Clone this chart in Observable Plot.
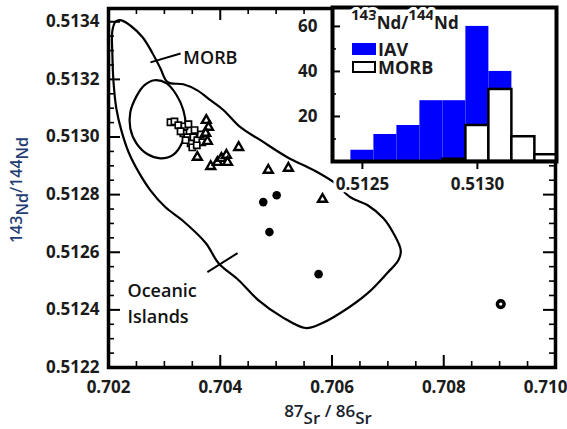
<!DOCTYPE html>
<html><head><meta charset="utf-8">
<script src="https://cdn.jsdelivr.net/npm/d3@7"></script>
<script src="https://cdn.jsdelivr.net/npm/@observablehq/plot@0.6"></script>
<style>
body{margin:0;background:#fff;}
#wrap{position:relative;width:567px;height:429px;overflow:hidden;background:#fff;}
#wrap svg{position:absolute;left:0;top:0;}
#wrap svg.inset{left:290px;top:0;}
svg.inset text{paint-order:stroke;stroke:#fff;stroke-width:6px;stroke-linejoin:round;}
</style></head><body><div id="wrap"></div>
<script>
// ---- main axes ----
const xMajor = [0.702, 0.704, 0.706, 0.708];
const xLast = [0.710];
const xMinor = [0.7025, 0.703, 0.7035, 0.7045, 0.705, 0.7055, 0.7065, 0.707, 0.7075, 0.7085, 0.709, 0.7095];
const yMajor = [0.5122, 0.5124, 0.5126, 0.5128, 0.5130, 0.5132, 0.5134];
const yMinor = [0.51225, 0.5123, 0.51235, 0.51245, 0.5125, 0.51255, 0.51265, 0.5127, 0.51275,
  0.51285, 0.5129, 0.51295, 0.51305, 0.5131, 0.51315, 0.51325, 0.5133, 0.51335];

// ---- field outlines ----
const oibX = [0.70207,0.70213,0.70223,0.70239,0.70261,0.70279,0.70293,0.70306,0.70334,0.70359,0.70383,0.70406,0.70436,0.70472,0.70520,0.70567,0.70603,0.70633,0.70664,0.70692,0.70710,0.70723,0.70719,0.70699,0.70664,0.70615,0.70579,0.70553,0.70511,0.70468,0.70433,0.70397,0.70374,0.70332,0.70302,0.70275,0.70254,0.70236,0.70223,0.70214,0.70209,0.70207];
const oibY = [0.513370,0.513401,0.513405,0.513387,0.513346,0.513290,0.513238,0.513190,0.513183,0.513162,0.513127,0.513093,0.513034,0.512989,0.512930,0.512885,0.512843,0.512791,0.512763,0.512718,0.512666,0.512607,0.512573,0.512528,0.512458,0.512389,0.512351,0.512337,0.512375,0.512434,0.512503,0.512562,0.512632,0.512711,0.512756,0.512815,0.512878,0.512947,0.513023,0.513099,0.513190,0.513283];
const ellX = [0.70282,0.70304,0.70322,0.70334,0.70338,0.70332,0.70315,0.70293,0.70270,0.70250,0.70239,0.70239,0.70250,0.70264];
const ellY = [0.513197,0.513186,0.513145,0.513093,0.513041,0.512982,0.512937,0.512926,0.512940,0.512978,0.513030,0.513086,0.513141,0.513179];

// ---- samples ----
const sqX = [0.70311,0.70318,0.70325,0.70336,0.70343,0.70334,0.70341,0.70347,0.70352,0.70359,0.70365,0.70368,0.70350,0.70358,0.70338,0.70329,0.70354];
const sqY = [0.513051,0.513054,0.513041,0.513037,0.513044,0.513013,0.512999,0.512978,0.512999,0.512989,0.513009,0.512982,0.512964,0.512971,0.512989,0.513020,0.513024];
const triX = [0.70375,0.70379,0.70374,0.70377,0.70433,0.70359,0.70383,0.70395,0.70402,0.70411,0.70413,0.70486,0.70522,0.70583];
const triY = [0.513058,0.513034,0.513013,0.512985,0.512964,0.512930,0.512898,0.512912,0.512926,0.512937,0.512912,0.512885,0.512892,0.512784];
const circX = [0.70477,0.70501,0.70488,0.70576];
const circY = [0.512774,0.512798,0.512670,0.512524];
const ringX = [0.70902];
const ringY = [0.512420];

// ---- annotations ----
const fieldLabels = ["MORB", "Oceanic\nIslands"];
const fieldLabelX = [0.70334, 0.70234];
const fieldLabelY = [0.513283, 0.512427];
const pointerX1 = [0.70329, 0.70377];
const pointerY1 = [0.513290, 0.512531];
const pointerX2 = [0.70275, 0.70431];
const pointerY2 = [0.513259, 0.512597];

// ---- inset histogram ----
const binLo = [0.51245,0.51255,0.51265,0.51275,0.51285,0.51295,0.51305,0.51315,0.51325];
const binHi = [0.51255,0.51265,0.51275,0.51285,0.51295,0.51305,0.51315,0.51325,0.51335];
const iavCount = [5,12,16,27,27,60,40,0,0];
const morbCount = [0,0,0,0,1,16,32,11,3];
const insetXTicks = [0.5125, 0.5130];
const insetYMajor = [20, 40, 60];
const insetYMinor = [10, 30, 50];
const legendLabels = ["IAV", "MORB"];

const pts = (xs, ys) => xs.map((x, i) => ({x, y: ys[i]}));
const oib = pts(oibX, oibY), ell = pts(ellX, ellY);
const squares = pts(sqX, sqY), tris = pts(triX, triY), circs = pts(circX, circY), rings = pts(ringX, ringY);
const labels = fieldLabels.map((t, i) => ({t, x: fieldLabelX[i], y: fieldLabelY[i]}));
const pointers = pointerX1.map((x1, i) => ({x1, y1: pointerY1[i], x2: pointerX2[i], y2: pointerY2[i]}));

const FONT = "'Open Sans', sans-serif";
const TXT = "#1b1b1b";
const W = 567, H = 429, mL = 108, mR = 12, mT = 8, mB = 62;
const pW = W - mL - mR, pH = H - mT - mB;

const main = Plot.plot({
  width: W, height: H, marginLeft: mL, marginRight: mR, marginTop: mT, marginBottom: mB,
  style: {fontFamily: FONT, background: "transparent", overflow: "visible"},
  x: {domain: [0.702, 0.710], axis: null, label: null},
  y: {domain: [0.5122, 0.513446], axis: null, label: null},
  marks: [
    Plot.line(oib, {x: "x", y: "y", curve: "catmull-rom-closed", stroke: "black", strokeWidth: 2.2}),
    Plot.line(ell, {x: "x", y: "y", curve: "catmull-rom-closed", stroke: "black", strokeWidth: 2.2}),
    Plot.link(pointers, {x1: "x1", y1: "y1", x2: "x2", y2: "y2", stroke: "black", strokeWidth: 2}),
    Plot.text(labels, {x: "x", y: "y", text: "t", textAnchor: "start", lineAnchor: "middle", fontSize: 18, fontWeight: 600, fill: "#111", lineHeight: 1.45}),
    Plot.dot(squares, {x: "x", y: "y", symbol: "square", r: 3.5, fill: "white", stroke: "black", strokeWidth: 1.7}),
    Plot.dot(tris, {x: "x", y: "y", symbol: "triangle", r: 3.3, fill: "white", stroke: "black", strokeWidth: 2.4}),
    Plot.dot(circs, {x: "x", y: "y", r: 4.3, fill: "black"}),
    Plot.dot(rings, {x: "x", y: "y", r: 3.4, fill: "white", stroke: "black", strokeWidth: 3.4}),
    // inward ticks on all four sides
    Plot.tickX(xMajor.concat(xLast), {x: d => d, insetTop: pH - 12, stroke: "black", strokeWidth: 2}),
    Plot.tickX(xMinor, {x: d => d, insetTop: pH - 6, stroke: "black", strokeWidth: 1.6}),
    Plot.tickX(xMajor.concat(xLast), {x: d => d, insetBottom: pH - 12, stroke: "black", strokeWidth: 2}),
    Plot.tickX(xMinor, {x: d => d, insetBottom: pH - 6, stroke: "black", strokeWidth: 1.6}),
    Plot.tickY(yMajor, {y: d => d, insetRight: pW - 12, stroke: "black", strokeWidth: 2}),
    Plot.tickY(yMinor, {y: d => d, insetRight: pW - 6, stroke: "black", strokeWidth: 1.6}),
    Plot.tickY(yMajor, {y: d => d, insetLeft: pW - 12, stroke: "black", strokeWidth: 2}),
    Plot.tickY(yMinor, {y: d => d, insetLeft: pW - 6, stroke: "black", strokeWidth: 1.6}),
    Plot.axisX(xMajor, {anchor: "bottom", label: null, tickSize: 0, tickPadding: 13, tickFormat: d3.format(".3f"), fontSize: 17, fontWeight: "bold", fill: TXT}),
    Plot.axisX(xLast, {anchor: "bottom", label: null, tickSize: 0, tickPadding: 13, tickFormat: d3.format(".3f"), fontSize: 17, fontWeight: "bold", fill: TXT, textAnchor: "end", dx: 12}),
    Plot.axisY(yMajor, {anchor: "left", label: null, tickSize: 0, tickPadding: 9, tickFormat: d3.format(".4f"), fontSize: 17, fontWeight: "bold", fill: TXT}),
    Plot.frame({stroke: "black", strokeWidth: 3.5})
  ]
});

// axis titles with sub-positioned isotope names
const ms = d3.select(main);
const yt = ms.append("text").attr("transform", "translate(22,190) rotate(-90)")
  .attr("text-anchor", "middle").attr("fill", "#1f3c73").attr("font-size", 16)
  .attr("font-weight", 600).attr("font-family", FONT);
yt.append("tspan").text("143");
yt.append("tspan").attr("dy", 6).text("Nd");
yt.append("tspan").attr("dy", -6).text("/144");
yt.append("tspan").attr("dy", 6).text("Nd");

const xt = ms.append("text").attr("x", 328).attr("y", 417)
  .attr("text-anchor", "middle").attr("fill", "#1a1f2e").attr("font-size", 17)
  .attr("font-weight", 600).attr("font-family", FONT);
xt.append("tspan").text("87");
xt.append("tspan").attr("dy", 7).text("Sr");
xt.append("tspan").attr("dy", -7).text(" / 86");
xt.append("tspan").attr("dy", 7).text("Sr");

// ---- inset ----
const iav = binLo.map((lo, i) => ({lo, hi: binHi[i], n: iavCount[i]})).filter(d => d.n > 0);
const morb = binLo.map((lo, i) => ({lo, hi: binHi[i], n: morbCount[i]})).filter(d => d.n > 0);
const iW = 277, iH = 200, iL = 42, iR = 11, iT = 7, iB = 39;
const ipW = iW - iL - iR;

const inset = Plot.plot({
  width: iW, height: iH, marginLeft: iL, marginRight: iR, marginTop: iT, marginBottom: iB,
  style: {fontFamily: FONT, background: "transparent", overflow: "visible"},
  x: {domain: [0.51237, 0.513344], axis: null, label: null},
  y: {domain: [0, 68.4], axis: null, label: null},
  marks: [
    Plot.frame({fill: "white"}),
    Plot.rect(iav, {x1: "lo", x2: "hi", y1: () => 0, y2: "n", fill: "#0000ff", clip: true}),
    Plot.rect(morb, {x1: "lo", x2: "hi", y1: () => 0, y2: "n", fill: "white", stroke: "black", strokeWidth: 2.5, clip: true}),
    Plot.tickY(insetYMajor, {y: d => d, insetRight: ipW - 8, stroke: "black", strokeWidth: 2}),
    Plot.tickY(insetYMinor, {y: d => d, insetRight: ipW - 4, stroke: "black", strokeWidth: 1.6}),
    Plot.axisY(insetYMajor, {anchor: "left", label: null, tickSize: 0, tickPadding: 15, fontSize: 17, fontWeight: "bold", fill: TXT}),
    Plot.axisX(insetXTicks, {anchor: "bottom", label: null, tickSize: 8, tickPadding: 8, strokeWidth: 2, stroke: "black", tickFormat: d3.format(".4f"), fontSize: 17, fontWeight: "bold", fill: TXT}),
    Plot.frame({stroke: "black", strokeWidth: 4})
  ]
});
inset.classList.add("inset");

// legend inside inset
const is = d3.select(inset);
const lt = is.append("text").attr("x", 61).attr("y", 29).attr("fill", TXT).attr("text-anchor", "start")
  .attr("font-family", FONT).attr("font-weight", "bold").attr("font-size", 17);
lt.append("tspan").attr("dy", -9).attr("font-size", 15).text("143");
lt.append("tspan").attr("dy", 9).text("Nd/");
lt.append("tspan").attr("dy", -9).attr("font-size", 15).text("144");
lt.append("tspan").attr("dy", 9).text("Nd");
is.append("rect").attr("x", 62).attr("y", 43).attr("width", 24).attr("height", 12).attr("fill", "#0000ff");
is.append("rect").attr("x", 63).attr("y", 62).attr("width", 22).attr("height", 10).attr("fill", "white").attr("stroke", "black").attr("stroke-width", 2);
is.append("text").attr("x", 88).attr("y", 56).attr("fill", TXT).attr("font-family", FONT).attr("text-anchor", "start")
  .attr("font-weight", "bold").attr("font-size", 18).text(legendLabels[0]);
is.append("text").attr("x", 88).attr("y", 74).attr("fill", TXT).attr("font-family", FONT).attr("text-anchor", "start")
  .attr("font-weight", "bold").attr("font-size", 18).text(legendLabels[1]);

const wrap = document.getElementById("wrap");
wrap.appendChild(main);
wrap.appendChild(inset);
</script></body></html>
